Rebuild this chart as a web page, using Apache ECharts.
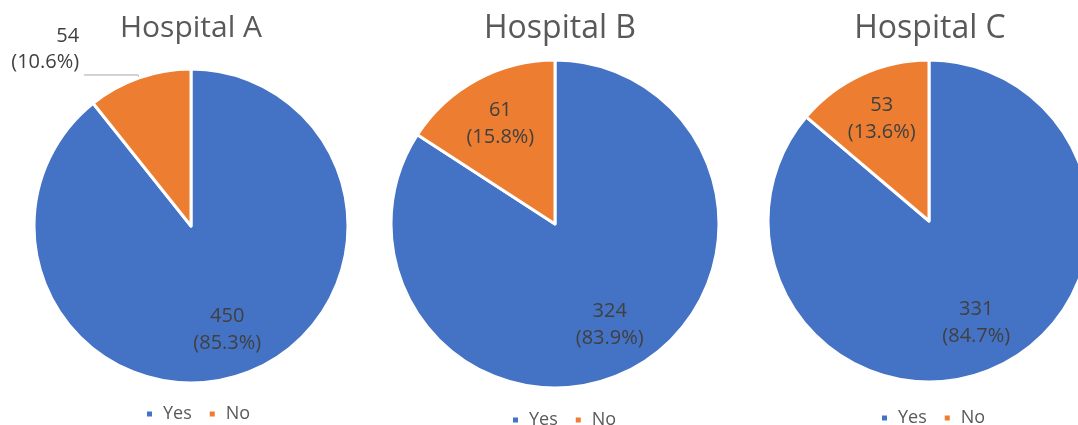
<!DOCTYPE html>
<html><head><meta charset="utf-8">
<script src="https://cdn.jsdelivr.net/npm/echarts@6/dist/echarts.min.js"></script>
<style>html,body{margin:0;padding:0;background:#fff}#c{width:1078px;height:425px}</style>
</head><body><div id="c"></div>
<script>
const hospitals = ['Hospital A', 'Hospital B', 'Hospital C'];
const categories = ['Yes', 'No'];
const yesValues = [450, 324, 331];
const noValues = [54, 61, 53];
const yesPct = ['85.3%', '83.9%', '84.7%'];
const noPct = ['10.6%', '15.8%', '13.6%'];

const colors = ['#4472C4', '#ED7D31'];
const centers = [[191, 226], [555, 224], [929, 221]];
const radii = [157, 164, 161];
const titleX = [191, 560, 930];
const titleSize = [30, 32, 32];
const legendLeft = [145, 511, 880];
const legendTop = [405, 411, 409];
const font = 'Open Sans';

const chart = echarts.init(document.getElementById('c'));
const series = [], title = [], legend = [];
hospitals.forEach((h, i) => {
  const outsideNo = i === 0;
  const mk = (cat, v, pct) => ({ name: cat, value: v, pct });
  const base = [mk('Yes', yesValues[i], yesPct[i]), mk('No', noValues[i], noPct[i])];
  const fmt = p => p.value + '\n(' + p.data.pct + ')';
  const fmtUp = p => p.value + '\n(' + p.data.pct + ')\n\u00a0\n\u00a0';
  series.push({
    type: 'pie', name: h, center: centers[i], radius: [0, radii[i]],
    startAngle: 90, clockwise: true, silent: true, animation: false,
    color: colors,
    itemStyle: { borderColor: '#fff', borderWidth: 3 },
    label: { show: false },
    labelLine: { show: false },
    data: base.map((d, k) => {
      const o = Object.assign({}, d);
      if (outsideNo && k === 1) {
        o.label = { show: true, position: 'outside', formatter: fmtUp, color: '#404040',
          fontFamily: font, fontSize: 20, lineHeight: 26, align: 'center' };
        o.labelLine = { show: true, length: 3, length2: 54, smooth: false,
          lineStyle: { color: '#a6a6a6', width: 1 } };
      }
      return o;
    })
  });
  series.push({
    type: 'pie', name: h + ' labels', center: centers[i], radius: [radii[i] * 0.36, radii[i]],
    startAngle: 90, clockwise: true, silent: true, animation: false,
    itemStyle: { color: 'rgba(0,0,0,0)', borderWidth: 0 },
    label: { show: true, position: 'inside', formatter: fmt, color: '#404040',
      fontFamily: font, fontSize: 20, lineHeight: 27 },
    labelLine: { show: false },
    emphasis: { disabled: true },
    legendHoverLink: false,
    data: base.map((d, k) => {
      const o = Object.assign({}, d);
      if (outsideNo && k === 1) o.label = { show: false };
      return o;
    })
  });
  title.push({
    text: h, left: titleX[i], top: 13, textAlign: 'center', padding: 0,
    textStyle: { fontFamily: font, fontSize: titleSize[i], fontWeight: 'normal', color: '#595959' }
  });
  legend.push({
    data: categories, left: legendLeft[i], top: legendTop[i], orient: 'horizontal', padding: 0,
    icon: 'rect', itemWidth: 7, itemHeight: 7, itemGap: 16,
    textStyle: { fontFamily: font, fontSize: 18, color: '#595959', padding: [0, 0, 0, 5] }
  });
});
chart.setOption({ animation: false, color: colors, title, legend, series });
</script></body></html>
